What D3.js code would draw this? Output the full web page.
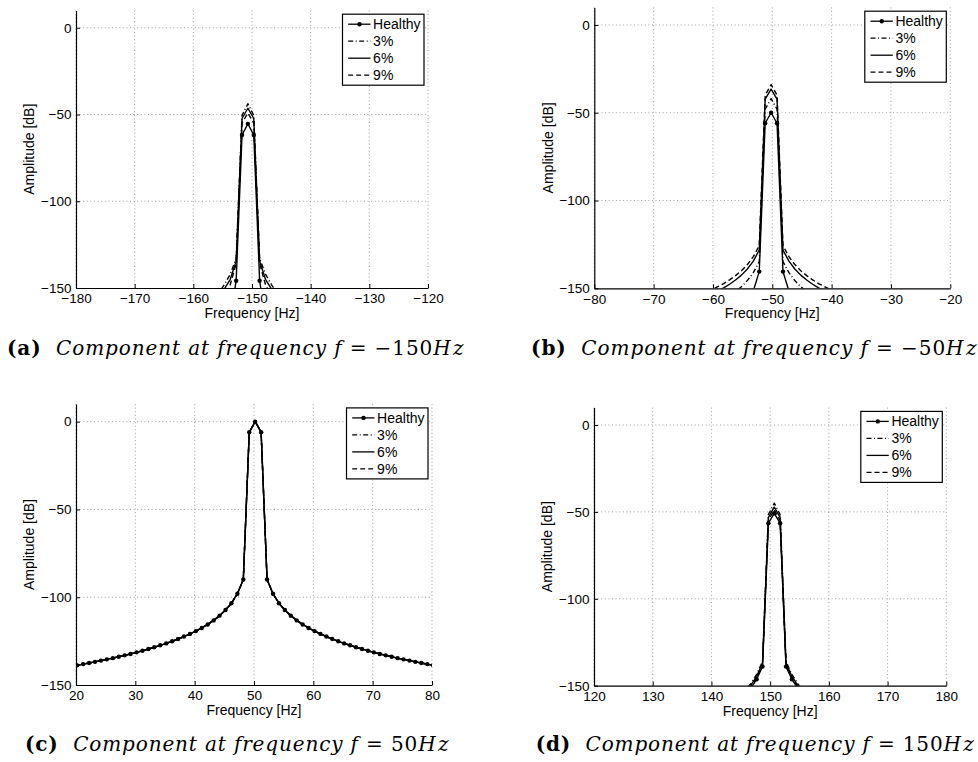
<!DOCTYPE html>
<html>
<head>
<meta charset="utf-8">
<script src="https://cdn.jsdelivr.net/npm/d3@7"></script>
<style>
  body { margin: 0; background: #fff; }
  svg { display: block; }
  .tick text { font-family: "Liberation Sans", Arial, sans-serif; font-size: 13.5px; fill: #000; }
  .lbl, .leg { font-family: "Liberation Sans", Arial, sans-serif; font-size: 14px; fill: #000; }
  .cap { font-family: "DejaVu Serif", serif; font-size: 20px; white-space: pre; fill: #000; }
</style>
</head>
<body>
<svg id="fig" width="978" height="762"></svg>
<script>
// ---------- data ----------
const seriesNames = ["Healthy", "3%", "6%", "9%"];
const yTicks = [-150, -100, -50, 0];

// (a) component at -150 Hz
const xTicksA = [-180, -170, -160, -150, -140, -130, -120];
const freqA = [-157.7, -156.7, -155.7, -154.7, -153.7, -152.7, -151.7, -150.7, -149.7, -148.7, -147.7, -146.7, -145.7, -144.7, -143.7];
const healthyA = [-200, -195, -188, -180, -168, -145.8, -61.8, -55.4, -61.8, -145.8, -168, -180, -188, -195, -200];
const fault3A = [-160, -157, -153, -148, -142, -133, -50.5, -43.8, -50.5, -133, -142, -148, -153, -157, -160];
const fault6A = [-162, -159, -155, -150.5, -145, -134.5, -52.3, -46.4, -52.3, -134.5, -145, -150.5, -155, -159, -162];
const fault9A = [-167, -164, -160, -155, -148, -136, -54.8, -49.2, -54.8, -136, -148, -155, -160, -164, -167];

// (b) component at -50 Hz
const xTicksB = [-80, -70, -60, -50, -40, -30, -20];
const freqB = [-62.2, -61.2, -60.2, -59.2, -58.2, -57.2, -56.2, -55.2, -54.2, -53.2, -52.2, -51.2, -50.2,
               -49.2, -48.2, -47.2, -46.2, -45.2, -44.2, -43.2, -42.2, -41.2, -40.2, -39.2, -38.2];
const healthyB = [-204, -201, -198, -194, -190, -185, -179, -172, -163, -151.5, -140.5, -56, -50,
                  -56, -140.5, -151.5, -163, -172, -179, -185, -190, -194, -198, -201, -204];
const fault3B = [-162.7, -161.4, -159.9, -158.2, -156.4, -154.3, -151.9, -149.1, -145.6, -141.1, -134.8, -48, -42,
                 -48, -134.8, -141.1, -145.6, -149.1, -151.9, -154.3, -156.4, -158.2, -159.9, -161.4, -162.7];
const fault6B = [-156.1, -154.7, -153.2, -151.6, -149.8, -147.7, -145.3, -142.5, -139.0, -134.5, -128.2, -42.3, -36.5,
                 -42.3, -128.2, -134.5, -139.0, -142.5, -145.3, -147.7, -149.8, -151.6, -153.2, -154.7, -156.1];
const fault9B = [-153.6, -152.3, -150.8, -149.1, -147.3, -145.2, -142.8, -140.0, -136.5, -132.0, -125.7, -40, -34,
                 -40, -125.7, -132.0, -136.5, -140.0, -142.8, -145.2, -147.3, -149.1, -150.8, -152.3, -153.6];

// (c) component at 50 Hz (fundamental)
const xTicksC = [20, 30, 40, 50, 60, 70, 80];
const freqC = [19.2, 20.2, 21.2, 22.2, 23.2, 24.2, 25.2, 26.2, 27.2, 28.2, 29.2, 30.2, 31.2, 32.2, 33.2, 34.2,
               35.2, 36.2, 37.2, 38.2, 39.2, 40.2, 41.2, 42.2, 43.2, 44.2, 45.2, 46.2, 47.2, 48.2, 49.2, 50.2,
               51.2, 52.2, 53.2, 54.2, 55.2, 56.2, 57.2, 58.2, 59.2, 60.2, 61.2, 62.2, 63.2, 64.2, 65.2, 66.2,
               67.2, 68.2, 69.2, 70.2, 71.2, 72.2, 73.2, 74.2, 75.2, 76.2, 77.2, 78.2, 79.2, 80.2, 81.2];
const healthyC = [-139.4, -138.8, -138.1, -137.5, -136.8, -136.1, -135.4, -134.7, -133.9, -133.1, -132.3, -131.4,
                  -130.5, -129.5, -128.5, -127.4, -126.3, -125.1, -123.8, -122.4, -120.9, -119.3, -117.5, -115.5,
                  -113.2, -110.5, -107.3, -103.4, -98, -89.9, -6, 0,
                  -6, -89.9, -98, -103.4, -107.3, -110.5, -113.2, -115.5, -117.5, -119.3, -120.9, -122.4,
                  -123.8, -125.1, -126.3, -127.4, -128.5, -129.5, -130.5, -131.4, -132.3, -133.1, -133.9,
                  -134.7, -135.4, -136.1, -136.8, -137.5, -138.1, -138.8, -139.4];
// at the fundamental the faulty spectra lie on top of the healthy one
const fault3C = [...healthyC];
const fault6C = [...healthyC];
const fault9C = [...healthyC];

// (d) component at 150 Hz
const xTicksD = [120, 130, 140, 150, 160, 170, 180];
const freqD = [143.7, 144.7, 145.7, 146.7, 147.7, 148.7, 149.7, 150.7, 151.7, 152.7, 153.7, 154.7, 155.7, 156.7, 157.7];
const healthyD = [-166, -162, -157, -151.5, -146.3, -139, -56.5, -50.8, -56.5, -139, -146.3, -151.5, -157, -162, -166];
const fault3D = [-160, -157, -153, -148.8, -143.5, -136, -51.5, -45, -51.5, -136, -143.5, -148.8, -153, -157, -160];
const fault6D = [-161, -158, -154, -149.8, -144.6, -137, -53.2, -47.2, -53.2, -137, -144.6, -149.8, -154, -158, -161];
const fault9D = [-162, -159, -155, -150.8, -145.5, -138, -54.8, -49, -54.8, -138, -145.5, -150.8, -155, -159, -162];

const captionTags = ["(a)", "(b)", "(c)", "(d)"];
const captionFreqs = ["\u2212150", "\u221250", "50", "150"];

// ---------- panels ----------
const panels = [
  { xTicks: xTicksA, freq: freqA, series: [healthyA, fault3A, fault6A, fault9A] },
  { xTicks: xTicksB, freq: freqB, series: [healthyB, fault3B, fault6B, fault9B] },
  { xTicks: xTicksC, freq: freqC, series: [healthyC, fault3C, fault6C, fault9C] },
  { xTicks: xTicksD, freq: freqD, series: [healthyD, fault3D, fault6D, fault9D] }
];

// axes boxes and caption extents (left/right ends of each caption line)
const layout = [
  { l: 76,    r: 428,   t: 10.4,  b: 288,   capL: 7,     capR: 462,   capY: 355 },
  { l: 594.3, r: 950.3, t: 7.4,   b: 288.3, capL: 531,   capR: 975,   capY: 355 },
  { l: 76,    r: 432,   t: 404.1, b: 685,   capL: 25,    capR: 447,   capY: 751 },
  { l: 594,   r: 946.3, t: 407.6, b: 685.7, capL: 535.7, capR: 972.3, capY: 751 }
];

// line styles: healthy (solid + dots), 3% dash-dot, 6% solid, 9% dashed
const styles = [
  { dash: null, marker: true },
  { dash: "5,2.5,1,2.5", marker: false },
  { dash: null, marker: false },
  { dash: "5,3", marker: false }
];

const svg = d3.select("#fig");
const defs = svg.append("defs");
const gridColor = "#a0a0a0";

panels.forEach((p, i) => {
  const L = layout[i];
  const g = svg.append("g");

  const x = d3.scaleLinear().domain(d3.extent(p.xTicks)).range([L.l, L.r]);
  const y = d3.scaleLinear().domain([-150, 10]).range([L.b, L.t]);

  // dotted grid
  g.append("g").selectAll("line").data(p.xTicks).join("line")
    .attr("x1", d => x(d)).attr("x2", d => x(d))
    .attr("y1", L.t).attr("y2", L.b)
    .attr("stroke", gridColor).attr("stroke-width", 1).attr("stroke-dasharray", "1,2.6");
  g.append("g").selectAll("line").data(yTicks.filter(v => v > -150)).join("line")
    .attr("x1", L.l).attr("x2", L.r)
    .attr("y1", d => y(d)).attr("y2", d => y(d))
    .attr("stroke", gridColor).attr("stroke-width", 1).attr("stroke-dasharray", "1,2.6");

  // data, clipped to the axes box
  const cid = "clip" + i;
  defs.append("clipPath").attr("id", cid).append("rect")
    .attr("x", L.l).attr("y", L.t).attr("width", L.r - L.l).attr("height", L.b - L.t);
  const plot = g.append("g").attr("clip-path", `url(#${cid})`);
  const line = d3.line().x((d, j) => x(p.freq[j])).y(d => y(d));

  p.series.forEach((vals, k) => {
    plot.append("path").datum(vals)
      .attr("d", line)
      .attr("fill", "none").attr("stroke", "#000").attr("stroke-width", 1.4)
      .attr("stroke-linejoin", "round")
      .attr("stroke-dasharray", styles[k].dash);
  });
  plot.append("g").selectAll("circle").data(p.series[0]).join("circle")
    .attr("cx", (d, j) => x(p.freq[j])).attr("cy", d => y(d))
    .attr("r", 2.2).attr("fill", "#000");

  // axes
  const xa = d3.axisBottom(x).tickValues(p.xTicks).tickSizeInner(-4).tickSizeOuter(0).tickPadding(5.8);
  const ya = d3.axisLeft(y).tickValues(yTicks).tickSizeInner(-4).tickSizeOuter(0).tickPadding(4.5);
  const gx = g.append("g").attr("transform", `translate(0,${L.b})`).call(xa);
  const gy = g.append("g").attr("transform", `translate(${L.l},0)`).call(ya);
  [gx, gy].forEach(a => {
    a.attr("font-size", null).attr("font-family", null);
    a.select(".domain").attr("stroke", "#000").attr("stroke-width", 1.2);
    a.selectAll(".tick line").attr("stroke", "#000").attr("stroke-width", 1);
  });

  // axis titles
  g.append("text").attr("class", "lbl")
    .attr("x", (L.l + L.r) / 2).attr("y", L.b + 30)
    .attr("text-anchor", "middle").text("Frequency [Hz]");
  g.append("text").attr("class", "lbl")
    .attr("transform", `translate(${L.l - 46.5},${(L.t + L.b) / 2}) rotate(-90)`)
    .attr("text-anchor", "middle").attr("dy", "0.35em").text("Amplitude [dB]");

  // legend
  const lw = 81.5, lh = 71;
  const lg = g.append("g").attr("transform", `translate(${L.r - 4 - lw},${L.t + 3.8})`);
  lg.append("rect").attr("width", lw).attr("height", lh)
    .attr("fill", "#fff").attr("stroke", "#000").attr("stroke-width", 1.2);
  seriesNames.forEach((name, k) => {
    const yy = 10 + k * 17;
    lg.append("line").attr("x1", 5.7).attr("x2", 28).attr("y1", yy).attr("y2", yy)
      .attr("stroke", "#000").attr("stroke-width", 1.3).attr("stroke-dasharray", styles[k].dash);
    if (styles[k].marker) lg.append("circle").attr("cx", 17).attr("cy", yy).attr("r", 2.2).attr("fill", "#000");
    lg.append("text").attr("class", "leg").attr("x", 30.6).attr("y", yy).attr("dy", "0.36em").text(name);
  });

  // caption, spread to span its line
  const cap = svg.append("text").attr("class", "cap")
    .attr("x", L.capL).attr("y", L.capY).attr("text-anchor", "start");
  cap.append("tspan").attr("font-weight", "bold").text(captionTags[i]);
  cap.append("tspan").attr("font-style", "italic").text("  Component at frequency ");
  cap.append("tspan").attr("font-style", "italic").text("f");
  cap.append("tspan").text(" = " + captionFreqs[i]);
  cap.append("tspan").attr("font-style", "italic").text("H");
  cap.append("tspan").attr("font-style", "italic").attr("dx", 1.5).text("z");
  const natural = cap.node().getComputedTextLength();
  const nChars = cap.text().length;
  const spacing = (L.capR - L.capL - natural) / (nChars - 1);
  cap.style("letter-spacing", spacing + "px");
});
</script>
</body>
</html>
